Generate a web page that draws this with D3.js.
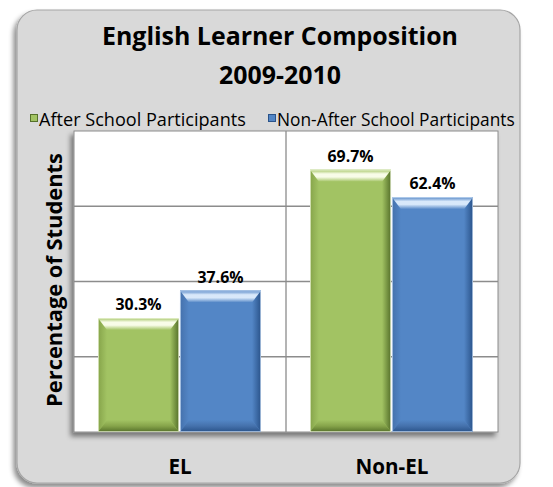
<!DOCTYPE html>
<html><head><meta charset="utf-8">
<script src="https://cdn.jsdelivr.net/npm/d3@7"></script>
<style>body{margin:0;background:#fff;}svg{display:block;}</style>
</head><body>
<script>
const categories = ["EL", "Non-EL"];
const seriesNames = ["After School Participants", "Non-After School Participants"];
const afterSchool = [30.3, 69.7];
const nonAfterSchool = [37.6, 62.4];
const yTicks = [0, 20, 40, 60, 80];
const titleLines = ["English Learner Composition", "2009-2010"];
const yTitle = "Percentage of Students";

const W = 553, H = 487;
const colors = ["#A2C363", "#5386C6"];
const dark = ["#55702A", "#2A538A"];
const light = ["#F8FCE8", "#D8E8FA"];
const mid = ["#86A44A", "#4571AC"];
const font = "'Open Sans', Lato, sans-serif";

const svg = d3.select("body").append("svg").attr("width", W).attr("height", H);
const defs = svg.append("defs");
const f1 = defs.append("filter").attr("id","sh").attr("x","-10%").attr("y","-10%").attr("width","120%").attr("height","120%");
f1.append("feDropShadow").attr("dx",-3).attr("dy",4).attr("stdDeviation",2.5).attr("flood-color","#000").attr("flood-opacity",0.45);

function grad(id, x1,y1,x2,y2, stops){
  const g = defs.append("linearGradient").attr("id",id).attr("x1",x1).attr("y1",y1).attr("x2",x2).attr("y2",y2);
  stops.forEach(s=>g.append("stop").attr("offset",s[0]).attr("stop-color",s[1]));
}
[0,1].forEach(i=>{
  grad("top"+i,0,0,0,1,[[0,colors[i]],[0.35,light[i]],[0.6,light[i]],[1,colors[i]]]);
  grad("bot"+i,0,0,0,1,[[0,colors[i]],[0.5,mid[i]],[1,dark[i]]]);
  grad("rgt"+i,0,0,1,0,[[0,colors[i]],[1,dark[i]]]);
  grad("lft"+i,0,0,1,0,[[0,mid[i]],[1,colors[i]]]);
});

function fit(sel, target){
  const w = sel.node().getComputedTextLength();
  const fs = parseFloat(sel.attr("font-size"));
  return fs * target / w;
}

// outer panel
svg.append("rect").attr("x",17).attr("y",10).attr("width",503).attr("height",473).attr("rx",20)
  .attr("fill","#D9D9D9").attr("stroke","#A6A6A6").attr("stroke-width",1.2).attr("filter","url(#sh)");

// title
const tt = svg.selectAll("text.title").data(titleLines).join("text").attr("class","title")
  .attr("x",280).attr("y",(d,i)=>45+i*39).attr("text-anchor","middle")
  .attr("font-family",font).attr("font-weight","bold").attr("font-size",24).attr("fill","#000").text(d=>d);
tt.attr("font-size", fit(tt.filter((d,i)=>i===0), 356));

// legend
const legX = [30, 268];
const legW = [207, 238];
const lg = svg.selectAll("g.leg").data(seriesNames).join("g").attr("class","leg")
  .attr("transform",(d,i)=>`translate(${legX[i]},0)`);
lg.append("rect").attr("x",0.5).attr("y",114.5).attr("width",7).attr("height",7)
  .attr("fill",(d,i)=>colors[i]).attr("stroke",(d,i)=>dark[i]).attr("stroke-width",1);
lg.append("text").attr("x",9).attr("y",126).attr("font-family",font).attr("font-size",16).attr("fill","#000").text(d=>d)
  .each(function(d,i){ const s=d3.select(this); s.attr("font-size", fit(s, legW[i])); });

// plot area
const plot = {x0:74, x1:498, y0:131, y1:432};
const x = d3.scaleBand().domain(categories).range([plot.x0, plot.x1]).paddingInner(0).paddingOuter(0);
const xs = d3.scaleBand().domain([0,1]).range([24, x.bandwidth()-25]).paddingInner(0.012).paddingOuter(0);
const y = d3.scaleLinear().domain([0, 80]).range([plot.y1, plot.y0]);

svg.append("rect").attr("x",plot.x0).attr("y",plot.y0).attr("width",plot.x1-plot.x0).attr("height",plot.y1-plot.y0)
  .attr("fill","#fff").attr("stroke","#8C8C8C").attr("stroke-width",1).attr("filter","url(#sh)");

// gridlines
svg.append("g").selectAll("line").data(yTicks.slice(1,-1)).join("line")
  .attr("x1",plot.x0).attr("x2",plot.x1).attr("y1",d=>y(d)).attr("y2",d=>y(d))
  .attr("stroke","#8C8C8C").attr("stroke-width",1.3);
svg.append("line").attr("x1",x(categories[1])).attr("x2",x(categories[1])).attr("y1",plot.y0).attr("y2",plot.y1)
  .attr("stroke","#8C8C8C").attr("stroke-width",1.3);

// bars
const data = [];
categories.forEach((c, ci) => {
  [afterSchool, nonAfterSchool].forEach((s, si) => data.push({c, si, v: s[ci]}));
});
const bev = 12, sideBev = 9;
const labels = [];
svg.append("g").selectAll("g").data(data).join("g").each(function(d){
  const g = d3.select(this);
  const bx = x(d.c) + xs(d.si), bw = xs.bandwidth();
  const top = y(d.v), bot = y(0);
  const L = bx, R = bx + bw;
  g.append("rect").attr("x",L).attr("y",top).attr("width",bw).attr("height",bot-top).attr("fill",colors[d.si]);
  const poly = (pts, fill) => g.append("polygon").attr("points", pts.map(p=>p.join(",")).join(" ")).attr("fill",fill);
  poly([[L,top],[L,bot],[L+sideBev,bot-bev],[L+sideBev,top+bev]], `url(#lft${d.si})`);
  poly([[R,top],[R,bot],[R-sideBev,bot-bev],[R-sideBev,top+bev]], `url(#rgt${d.si})`);
  poly([[L,bot],[R,bot],[R-sideBev,bot-bev],[L+sideBev,bot-bev]], `url(#bot${d.si})`);
  poly([[L,top],[R,top],[R-sideBev,top+bev],[L+sideBev,top+bev]], `url(#top${d.si})`);
  g.append("rect").attr("x",L+0.4).attr("y",top+0.4).attr("width",bw-0.8).attr("height",bot-top-0.8).attr("fill","none")
    .attr("stroke",light[d.si]).attr("stroke-width",0.8).attr("opacity",0.8);
  labels.push(g.append("text").attr("x",bx+bw/2).attr("y",top-8).attr("text-anchor","middle")
    .attr("font-family",font).attr("font-weight","bold").attr("font-size",15).attr("fill","#000")
    .text(d3.format(".1f")(d.v)+"%"));
});
const lfs = fit(labels[0], 46);
labels.forEach(l=>l.attr("font-size", lfs));

// category labels
const cl = svg.append("g").selectAll("text").data(categories).join("text")
  .attr("x",d=>x(d)+x.bandwidth()/2).attr("y",474).attr("text-anchor","middle")
  .attr("font-family",font).attr("font-weight","bold").attr("font-size",20).attr("fill","#000").text(d=>d);
cl.attr("font-size", fit(cl.filter((d,i)=>i===1), 73));

// y title
const yt = svg.append("text").attr("transform",`translate(62,280) rotate(-90)`)
  .attr("text-anchor","middle").attr("font-family",font).attr("font-weight","bold").attr("font-size",20)
  .attr("fill","#000").text(yTitle);
yt.attr("font-size", fit(yt, 254));
</script>
</body></html>
